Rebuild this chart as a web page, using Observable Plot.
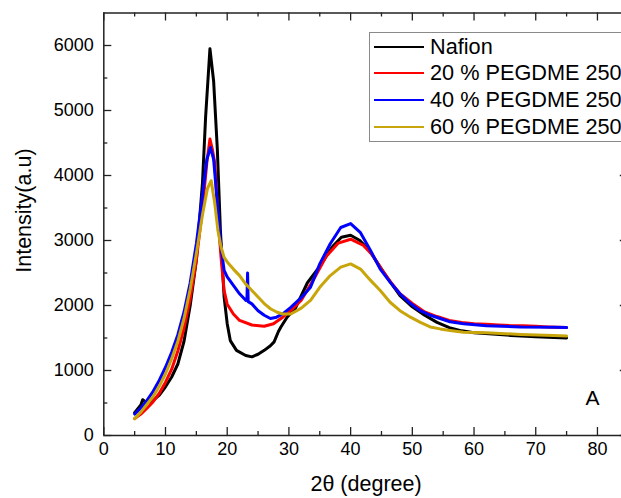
<!DOCTYPE html>
<html>
<head>
<meta charset="utf-8">
<script src="https://cdn.jsdelivr.net/npm/d3@7"></script>
<script src="https://cdn.jsdelivr.net/npm/@observablehq/plot@0.6"></script>
<style>
  html, body { margin: 0; padding: 0; background: #fff; overflow: hidden; }
  #wrap { position: relative; width: 621px; height: 498px; font-family: "Liberation Sans", Arial, sans-serif; }
  #legend { position: absolute; left: 369px; top: 32px; width: 280px; height: 110px; border: 1px solid #8a8a8a; background: #fff; box-sizing: border-box; }
  .row { position: absolute; left: 0; height: 26px; display: flex; align-items: center; }
  .sw { width: 50px; height: 2px; margin-left: 4px; margin-right: 6px; }
  .lab { font-size: 21.7px; color: #000; white-space: nowrap; }
</style>
</head>
<body>
<div id="wrap"><div id="legend"></div></div>
<script>
// ---- data ----
const seriesNames = ["Nafion", "20 % PEGDME 250", "40 % PEGDME 250", "60 % PEGDME 250"];
const seriesColors = ["#000000", "#ff0000", "#0000ff", "#c8a50a"];

const nafionAngle = [5, 6, 6.3, 7, 8, 9, 10, 11, 12, 13, 14, 15, 16, 16.5, 17.2, 17.8, 18.4, 18.9, 19.5, 20, 20.5, 21.5, 23, 24, 25, 26, 27, 27.6, 28.3, 28.7, 29.7, 31, 33, 35, 37, 38.5, 40, 41.5, 43, 45, 46.5, 48, 50, 52, 54, 56, 58, 60, 63, 66, 70, 75];
const nafionIntensity = [350, 470, 550, 500, 540, 620, 750, 900, 1100, 1450, 2000, 2700, 3900, 4900, 5950, 5450, 4400, 3150, 2130, 1720, 1460, 1310, 1230, 1210, 1250, 1310, 1380, 1440, 1600, 1670, 1820, 1950, 2350, 2600, 2900, 3050, 3080, 3000, 2850, 2560, 2350, 2150, 1980, 1850, 1740, 1660, 1610, 1580, 1560, 1540, 1520, 1500];

const peg20Angle = [5, 6, 7, 8, 9, 10, 11, 12, 13, 14, 15, 16, 16.7, 17.2, 17.6, 18, 18.5, 19, 19.5, 20, 21, 22, 24, 26, 27.5, 29, 30.5, 32, 34, 36, 38, 40, 42, 43.5, 45, 46.5, 48, 50, 52, 54, 56, 58, 60, 62, 64, 66, 68, 70, 72, 75];
const peg20Intensity = [260, 330, 420, 520, 650, 820, 1020, 1300, 1650, 2100, 2700, 3500, 4200, 4560, 4400, 4180, 3360, 2740, 2230, 2020, 1870, 1770, 1700, 1680, 1720, 1820, 1940, 2080, 2400, 2750, 2960, 3020, 2930, 2780, 2560, 2360, 2180, 2030, 1900, 1830, 1770, 1740, 1720, 1710, 1700, 1690, 1690, 1680, 1670, 1660];

const peg40Angle = [5, 6, 7, 8, 9, 10, 11, 12, 13, 14, 15, 16, 16.7, 17.3, 17.8, 18.5, 19, 19.5, 20, 21, 22, 23, 23.2, 23.3, 23.4, 24, 25, 26, 27, 28, 29, 30.3, 32, 33.5, 35, 36.7, 38.4, 40, 41.6, 43.2, 44.8, 46.4, 48, 49.7, 51.3, 52.9, 54.5, 56.1, 58.3, 62, 67.5, 72.9, 75];
const peg40Intensity = [330, 420, 540, 680, 850, 1050, 1280, 1550, 1900, 2350, 2950, 3700, 4250, 4430, 4250, 3460, 2900, 2540, 2440, 2310, 2180, 2080, 2100, 2500, 2060, 2025, 1920, 1850, 1800, 1820, 1870, 1970, 2120, 2280, 2640, 2950, 3200, 3260, 3120, 2850, 2560, 2360, 2180, 2030, 1920, 1850, 1800, 1750, 1720, 1690, 1670, 1665, 1660];

const peg60Angle = [5, 6, 7, 8, 9, 10, 11, 12, 13, 14, 15, 16, 16.8, 17.4, 18, 18.5, 19, 19.5, 20, 21, 22, 23, 24, 25, 26, 27, 28, 29, 30.3, 32, 33.5, 35, 36.7, 38.4, 40, 41.6, 43.2, 44.8, 46.4, 48, 49.7, 51.3, 52.9, 54.5, 56.1, 58.3, 62, 67.5, 72.9, 75];
const peg60Intensity = [260, 360, 480, 600, 760, 950, 1180, 1450, 1800, 2250, 2800, 3400, 3800, 3920, 3560, 3150, 2900, 2740, 2670, 2560, 2460, 2330, 2230, 2130, 2030, 1950, 1900, 1870, 1870, 1960, 2080, 2280, 2460, 2590, 2640, 2560, 2390, 2230, 2050, 1920, 1820, 1740, 1670, 1640, 1615, 1590, 1580, 1555, 1540, 1530];

const xMajorTicks = [0, 10, 20, 30, 40, 50, 60, 70, 80];
const xMinorTicks = [5, 15, 25, 35, 45, 55, 65, 75];
const yMajorTicks = [0, 1000, 2000, 3000, 4000, 5000, 6000];
const yMinorTicks = [500, 1500, 2500, 3500, 4500, 5500];

// ---- build ----
const angles = [nafionAngle, peg20Angle, peg40Angle, peg60Angle];
const intens = [nafionIntensity, peg20Intensity, peg40Intensity, peg60Intensity];
const rows = [];
seriesNames.forEach((name, i) => {
  angles[i].forEach((a, j) => rows.push({series: name, angle: a, intensity: intens[i][j]}));
});

const xMax = 85, yMax = 6500;
const font = "'Liberation Sans', Arial, sans-serif";
// tick lengths expressed in scale units (8px major, 4px minor)
const pxX = 85 / (627.8 - 103.3), pxY = 6500 / (435 - 12.5);

const lineMarks = seriesNames.map((name, i) =>
  Plot.line(rows.filter(d => d.series === name), {x: "angle", y: "intensity", stroke: seriesColors[i], strokeWidth: 3, strokeLinejoin: "round"})
);

const chart = Plot.plot({
  width: 621,
  height: 498,
  marginLeft: 103.3, marginRight: 0, marginTop: 12.5, marginBottom: 63,
  style: {fontFamily: font, background: "transparent", overflow: "visible"},
  x: {domain: [0, xMax], range: [103.3, 627.8], axis: null},
  y: {domain: [0, yMax], range: [435, 12.5], axis: null},
  marks: [
    ...lineMarks,
    // frame lines
    Plot.ruleX([0, xMax], {y1: 0, y2: yMax, stroke: "#222", strokeWidth: 1.5}),
    Plot.ruleY([0, yMax], {x1: 0, x2: xMax, stroke: "#222", strokeWidth: 1.5}),
    // bottom ticks (inward)
    Plot.ruleX(xMajorTicks, {x: d => d, y1: 0, y2: 8 * pxY, stroke: "#222", strokeWidth: 1.3}),
    Plot.ruleX(xMinorTicks, {x: d => d, y1: 0, y2: 4 * pxY, stroke: "#222", strokeWidth: 1.3}),
    // top ticks
    Plot.ruleX(xMajorTicks, {x: d => d, y1: yMax, y2: yMax - 8 * pxY, stroke: "#222", strokeWidth: 1.3}),
    Plot.ruleX(xMinorTicks, {x: d => d, y1: yMax, y2: yMax - 4 * pxY, stroke: "#222", strokeWidth: 1.3}),
    // left ticks
    Plot.ruleY(yMajorTicks, {y: d => d, x1: 0, x2: 8 * pxX, stroke: "#222", strokeWidth: 1.3}),
    Plot.ruleY(yMinorTicks, {y: d => d, x1: 0, x2: 4 * pxX, stroke: "#222", strokeWidth: 1.3}),
    // right ticks
    Plot.ruleY(yMajorTicks, {y: d => d, x1: xMax, x2: xMax - 8 * pxX, stroke: "#222", strokeWidth: 1.3}),
    Plot.ruleY(yMinorTicks, {y: d => d, x1: xMax, x2: xMax - 4 * pxX, stroke: "#222", strokeWidth: 1.3}),
    // tick labels
    Plot.text(xMajorTicks, {x: d => d, y: 0, text: d => String(d), dy: 14, fontSize: 18, fill: "#000"}),
    Plot.text(yMajorTicks, {x: 0, y: d => d, text: d => String(d), dx: -10, textAnchor: "end", fontSize: 18, fill: "#000"}),
    // axis titles
    Plot.text(["2θ (degree)"], {x: xMax / 2, y: 0, text: d => d, dy: 49, fontSize: 21.5, fill: "#000"}),
    Plot.text(["Intensity(a.u)"], {x: 0, y: 3460, text: d => d, dx: -80, rotate: -90, fontSize: 21.5, fill: "#000"}),
    // panel letter
    Plot.text(["A"], {x: 79.2, y: 570, text: d => d, fontSize: 21, fill: "#000"})
  ]
});

const wrap = document.getElementById("wrap");
wrap.insertBefore(chart, wrap.firstChild);

// legend
const legend = document.getElementById("legend");
const rowTops = [1, 27, 54, 81];
seriesNames.forEach((name, i) => {
  const r = document.createElement("div");
  r.className = "row";
  r.style.top = rowTops[i] + "px";
  const sw = document.createElement("div");
  sw.className = "sw";
  sw.style.background = seriesColors[i];
  const lb = document.createElement("span");
  lb.className = "lab";
  lb.textContent = name;
  r.appendChild(sw); r.appendChild(lb);
  legend.appendChild(r);
});
</script>
</body>
</html>
